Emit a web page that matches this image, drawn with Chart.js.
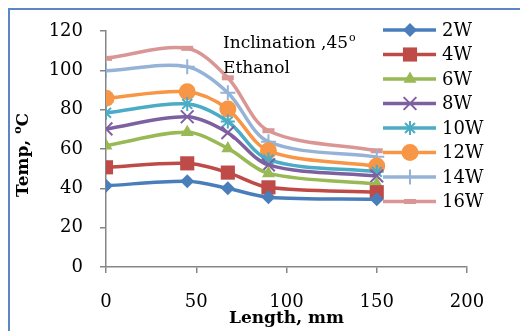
<!DOCTYPE html>
<html>
<head>
<meta charset="utf-8">
<script src="https://cdn.jsdelivr.net/npm/chart.js@4.4.0/dist/chart.umd.min.js"></script>
<style>
  html, body { margin: 0; padding: 0; background: #fff; overflow: hidden; }
  #wrap { position: relative; width: 520px; height: 331px; }
  #frame { position: absolute; left: 8px; top: 8px; width: 600px; height: 400px;
           border-left: 2px solid #5b87c6; border-top: 2px solid #5b87c6; }
  canvas { position: absolute; left: 0; top: 0; }
</style>
</head>
<body>
<div id="wrap">
  <div id="frame"></div>
  <canvas id="chart" width="520" height="331"></canvas>
</div>
<script>
// length along the pipe (mm)
const lengths = [0, 45, 67.5, 90, 150];

const names = ["2W", "4W", "6W", "8W", "10W", "12W", "14W", "16W"];
const t2W  = [41.3, 43.6, 40.0, 35.5, 34.4];
const t4W  = [50.7, 52.7, 48.0, 40.5, 38.0];
const t6W  = [61.7, 68.5, 60.3, 47.6, 42.2];
const t8W  = [70.2, 76.4, 68.3, 51.9, 46.3];
const t10W = [78.4, 82.9, 74.0, 54.6, 48.4];
const t12W = [85.8, 89.1, 80.3, 59.1, 51.3];
const t14W = [99.8, 101.8, 88.6, 63.7, 56.0];
const t16W = [106.1, 111.2, 96.2, 69.3, 59.1];

const xTicks = [0, 50, 100, 150, 200];
const yTicks = [0, 20, 40, 60, 80, 100, 120];

const colors = ["#4a7ebb", "#be4b48", "#98b954", "#7d60a0", "#4bacc6", "#f79646", "#95b3d7", "#d99694"];
const styles = ["rectRot", "rect", "triangle", "crossRot", "star", "circle", "cross", "line"];
const radii = [7, 10, 7.5, 9, 7, 8.5, 7.5, 6];
const markerLine = [0, 0, 0, 2, 2, 0, 2, 5];

const allSeries = [t2W, t4W, t6W, t8W, t10W, t12W, t14W, t16W];

const datasets = allSeries.map((vals, i) => ({
    label: names[i],
    data: vals.map((v, j) => ({ x: lengths[j], y: v })),
    borderColor: colors[i],
    backgroundColor: colors[i],
    borderWidth: 3.5,
    tension: 0.32,
    pointStyle: styles[i],
    pointRadius: radii[i],
    pointBackgroundColor: colors[i],
    pointBorderColor: colors[i],
    pointBorderWidth: markerLine[i]
}));

const font = "DejaVu Serif";

const extras = {
    id: "extras",
    afterDraw(chart) {
        const ctx = chart.ctx;
        ctx.save();

        // legend: line + marker + name
        chart.data.datasets.forEach((ds, i) => {
            const y = 30 + i * 24.5;
            ctx.strokeStyle = ds.borderColor;
            ctx.fillStyle = ds.borderColor;
            ctx.lineWidth = ds.borderWidth;
            ctx.beginPath();
            ctx.moveTo(383, y);
            ctx.lineTo(436, y);
            ctx.stroke();
            ctx.lineWidth = ds.pointBorderWidth;
            Chart.helpers.drawPoint(ctx, {
                pointStyle: ds.pointStyle, radius: ds.pointRadius,
                borderWidth: ds.pointBorderWidth, rotation: 0
            }, 410, y);
            ctx.fillStyle = "#000";
            ctx.font = "18px '" + font + "'";
            ctx.textAlign = "left";
            ctx.textBaseline = "middle";
            ctx.fillText(ds.label, 442, y + 1);
        });

        // annotation
        ctx.fillStyle = "#000";
        ctx.textAlign = "left";
        ctx.textBaseline = "alphabetic";
        ctx.font = "17px '" + font + "'";
        const s = "Inclination ,45";
        ctx.fillText(s, 223, 48);
        const w = ctx.measureText(s).width;
        ctx.font = "11px '" + font + "'";
        ctx.fillText("o", 223 + w + 1, 41);
        ctx.font = "17px '" + font + "'";
        ctx.fillText("Ethanol", 223, 73);

        // y title
        ctx.translate(28, 155);
        ctx.rotate(-Math.PI / 2);
        ctx.font = "bold 17px '" + font + "'";
        const a = "Temp, ", b = "C";
        const wa = ctx.measureText(a).width, wb = ctx.measureText(b).width;
        ctx.font = "bold 11px '" + font + "'";
        const wo = ctx.measureText("o").width;
        let x0 = -(wa + wo + wb) / 2;
        ctx.font = "bold 17px '" + font + "'";
        ctx.fillText(a, x0, 0);
        ctx.font = "bold 11px '" + font + "'";
        ctx.fillText("o", x0 + wa, -7);
        ctx.font = "bold 17px '" + font + "'";
        ctx.fillText(b, x0 + wa + wo, 0);

        ctx.restore();
    }
};

new Chart(document.getElementById("chart").getContext("2d"), {
    type: "line",
    data: { datasets },
    plugins: [extras],
    options: {
        responsive: false,
        animation: false,
        layout: { padding: { top: 31, right: 53, left: 0, bottom: 0 } },
        plugins: { legend: { display: false }, tooltip: { enabled: false } },
        scales: {
            x: {
                type: "linear", min: 0, max: 200,
                afterFit: s => { s.height = 64; },
                afterBuildTicks: s => { s.ticks = xTicks.map(v => ({ value: v })); },
                grid: { drawOnChartArea: false, drawTicks: true, tickLength: 6, color: "#868686", lineWidth: 1.5 },
                border: { color: "#868686", width: 1.5 },
                ticks: { color: "#000", padding: 19, font: { family: font, size: 18 } },
                title: { display: true, text: "Length, mm", color: "#000",
                         font: { family: font, size: 17, weight: "bold" }, padding: { top: 0, bottom: 2 } }
            },
            y: {
                min: 0, max: 120,
                afterFit: s => { s.width = 106; },
                afterBuildTicks: s => { s.ticks = yTicks.map(v => ({ value: v })); },
                grid: { drawOnChartArea: false, drawTicks: true, tickLength: 6, color: "#868686", lineWidth: 1.5 },
                border: { color: "#868686", width: 1.5 },
                ticks: { color: "#000", padding: 17, font: { family: font, size: 18 } }
            }
        }
    }
});
</script>
</body>
</html>
